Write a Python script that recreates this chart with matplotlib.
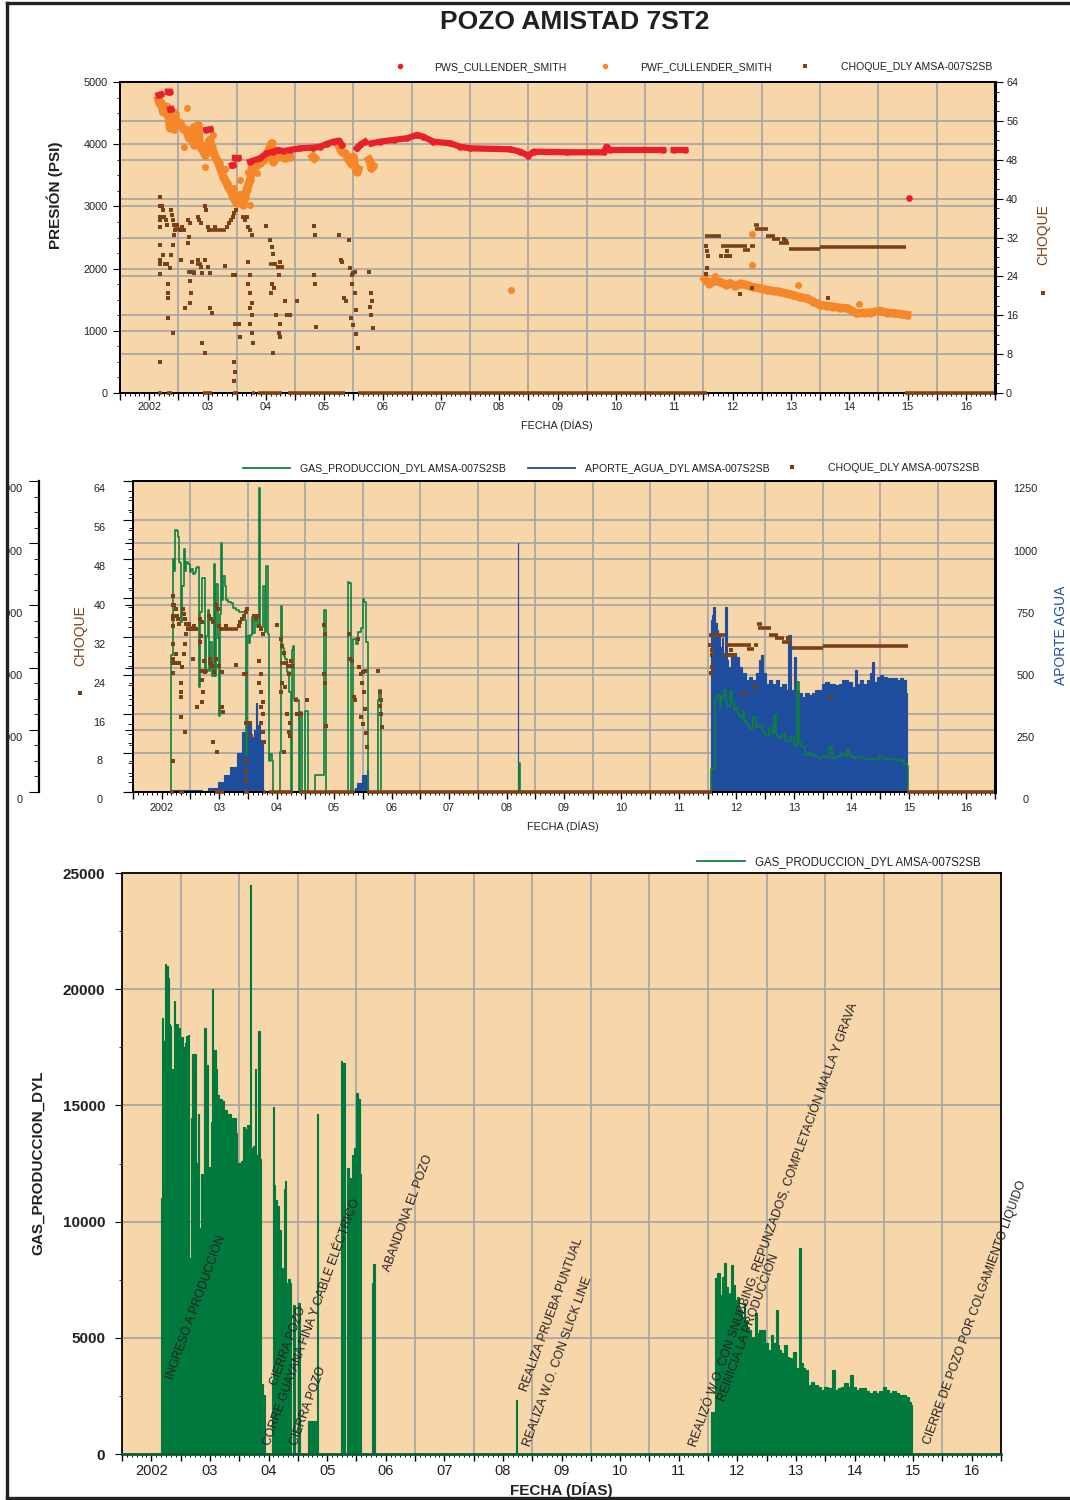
import numpy as np
import matplotlib
matplotlib.use('Agg')
import matplotlib.pyplot as plt
from matplotlib.lines import Line2D
from matplotlib.patches import Rectangle

nan = np.nan

## presion (psi) ##
pws_year = [2002.66, 2002.70, nan, 2002.82, 2002.85, nan, 2002.86, 2002.88, nan, 2003.48, 2003.55, nan,
            2003.92, 2003.94, nan, 2003.97, 2004.03, nan, 2004.23, 2004.40, 2004.51, 2004.63, 2004.71,
            2004.80, 2004.91, 2005.09, 2005.31, 2005.43, 2005.54, 2005.66, 2005.76, 2005.80, nan,
            2006.06, 2006.11, 2006.20, nan, 2006.31, 2006.46, 2006.69, 2006.92, 2007.09, 2007.20,
            2007.37, 2007.66, 2007.83, 2008.00, 2008.69, 2008.86, 2009.00, 2009.09, 2009.66, 2010.29,
            2010.34, 2010.40, 2011.31, nan, 2011.49, 2011.69, nan, 2015.52]
pws_psi = [4790, 4800, nan, 4845, 4845, nan, 4560, 4565, nan, 4230, 4240, nan,
           3660, 3665, nan, 3780, 3780, nan, 3720, 3772, 3853, 3880, 3907,
           3890, 3907, 3934, 3944, 3960, 4003, 4041, 4057, 3987, nan,
           3934, 3987, 4041, nan, 4014, 4041, 4068, 4095, 4148, 4121,
           4041, 4014, 3960, 3934, 3918, 3880, 3815, 3880, 3870, 3870,
           3960, 3907, 3907, nan, 3907, 3907, nan, 3135]

pwf_year = [2002.66, 2002.68, 2002.71, 2002.74, 2002.76, 2002.80, 2002.83, 2002.86, 2002.89, 2002.94,
            2002.97, 2003.03, 2003.08, 2003.14, 2003.18, 2003.23, 2003.27, 2003.31, 2003.34, 2003.37,
            2003.42, 2003.46, 2003.50, 2003.54, 2003.57, 2003.60, 2003.63, 2003.66, 2003.69, 2003.71,
            2003.74, 2003.77, 2003.80, 2003.83, 2003.86, 2003.89, 2003.92, 2003.94, 2003.97, 2004.00,
            2004.03, 2004.06, 2004.09, 2004.11, 2004.14, 2004.17, 2004.20, 2004.23, 2004.26, 2004.30,
            2004.34, 2004.40, 2004.46, 2004.50, 2004.54, 2004.57, 2004.60, 2004.63, 2004.68, 2004.74,
            2004.78, 2004.83, 2004.87, 2004.91, nan, 2005.31, 2005.33, nan, 2005.77, 2005.80, 2005.86,
            2005.90, 2005.94, 2005.97, 2006.00, 2006.03, 2006.06, 2006.08, nan, 2006.27, 2006.29,
            2006.31, 2006.33, nan,
            2012.03, 2012.10, 2012.18, 2012.29, 2012.38, 2012.46, 2012.55, 2012.64, 2012.74, 2012.85,
            2012.97, 2013.09, 2013.20, 2013.31, 2013.42, 2013.54, 2013.65, 2013.77, 2013.88, 2014.00,
            2014.12, 2014.23, 2014.35, 2014.46, 2014.55, 2014.63, 2014.75, 2014.86, 2015.03, 2015.15,
            2015.26, 2015.38, 2015.49]
pwf_psi = [4711, 4650, 4657, 4523, 4560, 4603, 4450, 4256, 4442, 4496,
           4330, 4336, 4250, 4228, 4100, 4175, 3990, 4041, 4309, 3960,
           3900, 3826, 3980, 4068, 3950, 3880, 3800, 3746, 3690, 3638,
           3560, 3478, 3420, 3371, 3300, 3264, 3200, 3156, 3100, 3049,
           3120, 3183, 3050, 3023, 3150, 3264, 3350, 3424, 3612, 3640,
           3666, 3700, 3746, 3800, 3880, 3950, 4014, 3719, 3780, 3826,
           3800, 3773, 3790, 3799, nan, 3799, 3780, nan, 3934, 3880, 3853,
           3780, 3719, 3680, 3799, 3638, 3558, 3600, nan, 3750, 3719,
           3612, 3650, nan,
           1830, 1760, 1800, 1790, 1740, 1763, 1720, 1760, 1736, 1700,
           1683, 1656, 1640, 1629, 1600, 1576, 1540, 1522, 1470, 1415,
           1400, 1388, 1370, 1361, 1320, 1281, 1290, 1291, 1323, 1290,
           1281, 1270, 1254]
pwf_sc_year = [2003.14, 2003.46, 2003.09, 2004.06, 2004.23, 2004.34, 2003.60, 2003.25, 2002.93, 2004.20,
               2003.95, 2003.80, 2008.70, 2012.83, 2012.83, 2013.63, 2014.66, 2012.20]
pwf_sc_psi = [4577, 3638, 3960, 3424, 3023, 3530, 4150, 4290, 4230, 3560,
              3300, 3600, 1656, 2556, 2058, 1736, 1426, 1880]

## choque ##
choque_year = [2002.69, 2002.69, 2002.69, 2002.69, 2002.69, 2002.69, 2002.69, 2002.69, 2002.69, 2002.69,
               2002.72, 2002.74, 2002.76, 2002.78, 2002.80, 2002.74, 2002.77, 2002.80,
               2002.83, 2002.83, 2002.83, 2002.83,
               2002.87, 2002.89, 2002.91, 2002.93, 2002.95, 2002.92, 2002.90, 2002.88, 2002.86, 2002.90,
               2002.98, 2003.02, 2003.06, 2003.10, 2003.05, 2003.11,
               2003.16, 2003.20, 2003.18, 2003.17, 2003.24, 2003.22, 2003.26, 2003.20, 2003.22, 2003.20,
               2003.33, 2003.36, 2003.39, 2003.34, 2003.38, 2003.41, 2003.40,
               2003.45, 2003.48, 2003.50, 2003.53, 2003.45, 2003.50, 2003.55, 2003.55, 2003.57, 2003.46,
               2003.62, 2003.80,
               2003.84, 2003.87, 2003.90, 2003.93, 2003.96, 2003.98, 2003.97, 2003.97, 2003.96, 2003.97,
               2003.96, 2003.94,
               2004.00, 2004.04, 2004.06,
               2004.11, 2004.14, 2004.17, 2004.14, 2004.20, 2004.23, 2004.26, 2004.20, 2004.23, 2004.20,
               2004.23, 2004.26, 2004.23, 2004.26, 2004.23, 2004.26, 2004.28,
               2004.51,
               2004.57, 2004.60, 2004.62, 2004.66, 2004.70, 2004.72, 2004.60, 2004.64, 2004.58, 2004.68,
               2004.74, 2004.72, 2004.74, 2004.62, 2004.75, 2004.77,
               2004.83, 2004.86, 2004.89, 2004.92, 2005.03,
               2005.32, 2005.34, 2005.32, 2005.34, 2005.36,
               2005.75, 2005.78, 2005.81, 2005.84, 2005.87,
               2005.92, 2005.94, 2005.97, 2006.00, 2006.03, 2005.98, 2006.02, 2005.96, 2006.00, 2006.05,
               2006.08, 2006.04,
               2006.27, 2006.30, 2006.32, 2006.29, 2006.31, 2006.33,
               2012.04, 2012.07, 2012.08, 2012.07, 2012.05, 2012.30, 2012.38, 2012.46, 2012.40, 2012.63,
               2012.83, 2014.14, 2013.39, 2013.41]
choque_val = [40.4, 38.4, 36.3, 35.6, 34.2, 30.5, 27.4, 26.5, 24.5, 6.4,
              38.4, 37.7, 36.3, 35.6, 34.6, 28.4, 26.5, 26.5,
              22.4, 20.5, 19.5, 15.5,
              37.7, 36.6, 35.6, 34.6, 33.5, 32.5, 30.5, 28.4, 25.7, 12.3,
              34.6, 33.5, 34.2, 33.5, 27.4, 17.4,
              35.6, 34.9, 32.2, 30.8, 27.0, 25.0, 24.7, 23.1, 20.5, 18.5,
              36.3, 35.6, 34.9, 27.4, 26.0, 24.7, 10.2,
              38.4, 37.7, 34.2, 33.5, 27.4, 26.0, 24.7, 17.4, 16.4, 8.3,
              34.2, 26.2,
              34.2, 35.0, 35.6, 36.3, 37.0, 37.7, 24.3, 14.3, 6.4, 4.4,
              2.4, 24.3,
              14.3, 14.3, 11.6,
              36.3, 36.3, 36.3, 35.6, 34.2, 33.5, 32.5, 27.0, 24.3, 22.4,
              20.5, 18.5, 17.4, 16.0, 14.3, 12.3, 10.2,
              34.4,
              31.5, 30.1, 28.7, 26.5, 26.0, 24.3, 22.4, 21.6, 20.5, 16.0,
              14.3, 12.3, 11.6, 8.3, 27.0, 26.0,
              19.0, 16.0, 16.0, 16.0, 19.0,
              34.4, 32.5, 24.3, 22.4, 13.5,
              32.5, 27.4, 27.0, 19.5, 19.0,
              31.5, 25.7, 24.3, 24.7, 25.0, 22.4, 20.5, 15.5, 13.9, 12.1,
              9.2, 17.1,
              25.0, 20.5, 19.0, 17.7, 16.0, 13.3,
              30.3, 29.2, 28.1, 25.7, 24.5, 28.2, 28.2, 28.2, 29.3, 20.4,
              21.6, 19.5, 31.7, 31.2]
# tramos continuos de choque
choque_run_start = [2002.65, 2002.80, 2003.42, 2003.94, 2004.26, 2004.37, 2004.88, 2006.08, 2015.46,
                    2002.92, 2003.55, 2003.14, 2003.30, 2004.55,
                    2012.02, 2012.30, 2012.68, 2012.80, 2012.86, 2012.88, 2013.07, 2013.18, 2013.30,
                    2013.46, 2014.00]
choque_run_end = [2002.72, 2002.89, 2003.58, 2004.02, 2004.31, 2004.78, 2005.86, 2012.07, 2016.98,
                  2003.05, 2003.82, 2003.30, 2003.40, 2004.68,
                  2012.30, 2012.75, 2012.80, 2012.88, 2012.95, 2013.10, 2013.22, 2013.32, 2013.46,
                  2014.00, 2015.48]
choque_run_val = [0, 0, 0, 0, 0, 0, 0, 0, 0,
                  33.8, 33.5, 24.8, 26.5, 26.5,
                  32.4, 30.3, 29.4, 30.3, 34.6, 33.7, 32.3, 31.6, 30.9,
                  29.6, 30.1]

## gas producido ##
gas_year = [2002.655, 2002.66, 2002.676, 2002.70, 2002.716, 2002.744, 2002.773, 2002.79, 2002.81, 2002.83,
            2002.847, 2002.87, 2002.90, 2002.915, 2002.943, 2002.97, 2003.00, 2003.03, 2003.057, 2003.085,
            2003.114, 2003.13, 2003.153, 2003.19, 2003.21, 2003.244, 2003.267, 2003.29, 2003.31, 2003.335,
            2003.358, 2003.39, 2003.415, 2003.437, 2003.46, 2003.483, 2003.506, 2003.517, 2003.54, 2003.5625,
            2003.585, 2003.608, 2003.642, 2003.68, 2003.72, 2003.767, 2003.824, 2003.88, 2003.926, 2003.96,
            2003.97, 2003.994, 2004.028, 2004.05, 2004.08, 2004.108, 2004.13, 2004.153, 2004.176, 2004.193,
            2004.22, 2004.25, 2004.278, 2004.307, 2004.335, 2004.358, 2004.375, 2004.403, 2004.426, 2004.45,
            2004.555, 2004.5625, 2004.59, 2004.608, 2004.63, 2004.665, 2004.705, 2004.733, 2004.75, 2004.778,
            2004.79, 2004.818, 2004.847, 2004.875, 2004.892, 2004.93, 2004.96, 2005.03, 2005.045,
            2005.30, 2005.34, 2005.36,
            2005.735, 2005.74, 2005.784, 2005.81, 2005.858, 2005.898, 2005.94, 2005.983, 2006.01, 2006.04,
            2006.074, 2006.097, 2006.265, 2006.267, 2006.31, 2006.335,
            2008.72, 2008.725, 2008.74, 2008.745,
            2012.045, 2012.057, 2012.11, 2012.142, 2012.17, 2012.20, 2012.215, 2012.255, 2012.30, 2012.323,
            2012.357, 2012.38, 2012.414, 2012.442, 2012.482, 2012.51, 2012.54, 2012.567, 2012.596, 2012.624,
            2012.652, 2012.68, 2012.71, 2012.766, 2012.822, 2012.85, 2012.88, 2012.936, 2012.993, 2013.05,
            2013.095, 2013.134, 2013.18, 2013.197, 2013.22, 2013.276, 2013.32, 2013.36, 2013.418, 2013.475,
            2013.53, 2013.577, 2013.60, 2013.645, 2013.673, 2013.73, 2013.787, 2013.843, 2013.90, 2013.957,
            2014.014, 2014.07, 2014.155, 2014.184, 2014.24, 2014.297, 2014.354, 2014.41, 2014.44, 2014.496,
            2014.55, 2014.61, 2014.666, 2014.723, 2014.78, 2014.836, 2014.893, 2014.95, 2015.006, 2015.063,
            2015.12, 2015.176, 2015.233, 2015.29, 2015.347, 2015.403, 2015.443, 2015.477, 2015.494]
gas_val = [0, 2935, 11000, 18740, 17775, 21100, 21000, 20500, 18500, 18400,
           13660, 16560, 19500, 17775, 18500, 18340, 17700, 17930, 17530, 17700,
           18000, 18050, 8420, 14470, 17200, 17200, 9790, 12530, 14630, 9710,
           12050, 9300, 18340, 9300, 16730, 12370, 6080, 14300, 20030, 15440,
           17370, 16560, 15440, 15280, 15200, 14790, 14630, 14470, 14470, 13820,
           2935, 12530, 11970, 12600, 14060, 12760, 13980, 14150, 13260, 24470,
           13180, 13260, 16560, 12850, 18180, 12700, 2530, 3020, 2530, 0,
           0, 3180, 14950, 11560, 10920, 10680, 9630, 8020, 0, 11400,
           11740, 7370, 7530, 7370, 0, 6400, 0, 6480, 0,
           1400, 14630, 0,
           0, 16890, 16810, 0, 12290, 11890, 12860, 13180, 15520, 15280,
           12050, 0, 0, 7370, 8180, 0,
           0, 2320, 2320, 0,
           0, 1820, 1820, 7570, 7770, 7800, 6840, 7630, 8200, 7200,
           6900, 6910, 8130, 7270, 6630, 6770, 6260, 6200, 5910, 6480,
           5770, 5480, 5340, 5050, 6050, 5200, 5340, 5340, 4760, 4480,
           5120, 4760, 6200, 4700, 4480, 4340, 4700, 4190, 4120, 4400,
           3690, 8860, 3900, 3690, 3620, 2970, 3110, 2970, 2900, 2760,
           2900, 2830, 3620, 2760, 2830, 2900, 3040, 2900, 3400, 2900,
           2760, 2830, 2830, 2690, 2620, 2690, 2620, 2690, 2900, 2760,
           2620, 2690, 2620, 2550, 2550, 2470, 2250, 2100, 0]

## aporte de agua ##
agua_year = [2002.67, 2002.673, 2003.166, 2003.22, 2003.40, 2003.543, 2003.63, 2003.745, 2003.86, 2003.92,
             2003.978, 2004.006, 2004.093, 2004.12, 2004.15, 2004.18, 2004.24, 2004.268,
             2005.86, 2005.863, 2005.95, 2006.037, 2006.095, 2006.10,
             2008.695, 2008.70, 2008.705,
             2012.055, 2012.058, 2012.087, 2012.115, 2012.144, 2012.173, 2012.20, 2012.23, 2012.26, 2012.29,
             2012.33, 2012.346, 2012.375, 2012.433, 2012.46, 2012.52, 2012.577, 2012.635, 2012.69, 2012.75,
             2012.81, 2012.866, 2012.906, 2012.95, 2012.98, 2013.04, 2013.096, 2013.154, 2013.21, 2013.27,
             2013.327, 2013.385, 2013.414, 2013.47, 2013.53, 2013.558, 2013.616, 2013.673, 2013.73, 2013.79,
             2013.846, 2013.904, 2013.96, 2014.02, 2014.077, 2014.135, 2014.193, 2014.25, 2014.308, 2014.366,
             2014.42, 2014.48, 2014.54, 2014.585, 2014.625, 2014.683, 2014.74, 2014.80, 2014.856, 2014.874,
             2014.914, 2014.97, 2015.03, 2015.087, 2015.145, 2015.20, 2015.26, 2015.318, 2015.376, 2015.433,
             2015.462, 2015.48]
agua_val = [0, 8, 8, 0, 15, 42, 68, 102, 155, 242,
            242, 276, 222, 250, 356, 269, 209, 0,
            0, 15, 35, 68, 88, 0,
            0, 1000, 0,
            0, 690, 711, 745, 678, 651, 637, 584, 620, 557,
            745, 530, 504, 544, 557, 544, 504, 477, 450, 463,
            450, 477, 530, 550, 477, 436, 450, 436, 450, 423,
            436, 410, 632, 410, 544, 410, 396, 383, 396, 390,
            396, 410, 410, 436, 443, 436, 436, 430, 436, 450,
            450, 443, 423, 490, 436, 450, 436, 450, 477, 524,
            443, 463, 470, 463, 457, 457, 457, 450, 457, 450,
            396, 0]

## eventos (anotaciones) ##
event_text = ['INGRESÓ A PRODUCCIÓN', 'CIERRA POZO', 'CORRE GUAYANA FINA Y CABLE ELÉCTRICO', 'CIERRA POZO',
              'ABANDONA EL POZO', 'REALIZA PRUEBA PUNTUAL', 'REALIZA W.O. CON SLICK LINE',
              'REALIZÓ W.O. CON SNUBBING, REPUNZADOS, COMPLETACIÓN MALLA Y GRAVA',
              'REINICIA LA PRODUCCIÓN', 'CIERRE DE POZO POR COLGAMIENTO LÍQUIDO']
event_year = [2002.87, 2004.645, 2004.526, 2004.986, 2006.573, 2008.911, 2008.962, 2011.812, 2012.29, 2015.788]
event_level = [3184, 2926, 344, 344, 7831, 2668, 301, 301, 2238, 387]

year_labels = ['2002'] + ['%02d' % (y % 100) for y in range(2003, 2017)]


## estilo ##
W, H = 1070, 1500
FAM = ['Liberation Sans', 'DejaVu Sans']
plt.rcParams['font.family'] = FAM
plt.rcParams['axes.linewidth'] = 1.3

BG = '#F7D6A9'
GRID = '#A3A3A3'
RED = '#E8202A'
ORANGE = '#F5862A'
BROWN = '#7A4117'
GREEN = '#007A3C'
GREEN_L = '#0E8040'
BLUE = '#1F4E9F'
INK = '#231F20'


def fx(x):
    return x / W


def fy(y):
    return 1 - y / H


def time_axis(ax, fs, pad):
    ax.set_xlim(2002, 2017)
    mids = np.arange(2002.5, 2017, 1.0)
    starts = np.arange(2002, 2018, 1.0)
    ticks = np.sort(np.concatenate([starts, mids]))
    ax.set_xticks(ticks)
    labs = [year_labels[int(t - 2002)] if t % 1 else '' for t in ticks]
    ax.set_xticklabels(labs, fontsize=fs, color=INK)
    ax.set_xticks(np.arange(2002, 2017.001, 1 / 12.), minor=True)
    ax.tick_params(axis='x', which='major', length=5, width=1, pad=pad)
    ax.tick_params(axis='x', which='minor', length=2.2, width=0.7)
    for yr in range(2003, 2017):
        ax.axvline(yr, color=GRID, lw=1.2, zorder=0.3)


def choque_plot(ax):
    ax.hlines(choque_run_val, choque_run_start, choque_run_end, color=BROWN, lw=2.6, zorder=3, clip_on=False)
    ax.plot(choque_year, choque_val, 's', ms=2.6, mew=0, color=BROWN, zorder=3)


fig = plt.figure(figsize=(W / 100, H / 100), dpi=100)

# ---------------- panel 1: presiones ----------------
ax1 = fig.add_axes([fx(120), fy(393), (995 - 120) / W, (393 - 82) / H])
ax1.set_facecolor(BG)
time_axis(ax1, 7.8, 1.5)
ax1.set_ylim(0, 5000)
ax1.set_yticks(np.arange(0, 5001, 1000))
ax1.set_yticks(np.arange(0, 5001, 250), minor=True)
ax1.set_yticklabels([str(v) for v in range(0, 5001, 1000)], fontsize=7.8, color=INK)
ax1.tick_params(axis='y', which='major', length=5, pad=4)
ax1.tick_params(axis='y', which='minor', length=2.5)
for v in range(1000, 5000, 1000):
    ax1.axhline(v, color=GRID, lw=1.2, zorder=0.3)
for v in range(8, 64, 8):
    ax1.axhline(v * 5000 / 64, color=GRID, lw=1.2, zorder=0.3)

ax1.plot(pwf_year, pwf_psi, '-o', color=ORANGE, lw=6, ms=6, mew=0, zorder=2)
ax1.plot(pwf_sc_year, pwf_sc_psi, 'o', color=ORANGE, ms=5, mew=0, zorder=2)
ax1.plot(pws_year, pws_psi, '-o', color=RED, lw=4.5, ms=4.8, mew=0, zorder=2.5)

ax1r = ax1.twinx()
ax1r.set_ylim(0, 64)
ax1r.set_yticks(np.arange(0, 65, 8))
ax1r.set_yticks(np.arange(0, 65, 2), minor=True)
ax1r.set_yticklabels([str(v) for v in range(0, 65, 8)], fontsize=7.8, color=INK)
ax1r.tick_params(axis='y', which='major', length=6, pad=2)
ax1r.tick_params(axis='y', which='minor', length=3)
ax1r.spines['right'].set_linewidth(2.2)
choque_plot(ax1r)

fig.text(fx(557), fy(425), 'FECHA (DÍAS)', ha='center', va='center', fontsize=7.8, color=INK)
fig.text(fx(55), fy(195), 'PRESIÓN (PSI)', ha='center', va='center', rotation=90,
         fontsize=11, fontweight='bold', color=INK)
fig.text(fx(1043), fy(235), 'CHOQUE', ha='center', va='center', rotation=90, fontsize=10, color=BROWN)
fig.add_artist(Line2D([fx(1043)], [fy(293)], marker='s', ms=2.5, mew=0, color=BROWN, transform=fig.transFigure))

# leyenda superior
for mx, tx, lab, col, mk, ms in [(400, 434, 'PWS_CULLENDER_SMITH', RED, 'o', 4),
                                 (605, 640, 'PWF_CULLENDER_SMITH', ORANGE, 'o', 4),
                                 (805, 841, 'CHOQUE_DLY AMSA-007S2SB', BROWN, 's', 2.3)]:
    fig.add_artist(Line2D([fx(mx)], [fy(66)], marker=mk, ms=ms, mew=0, color=col, transform=fig.transFigure))
    fig.text(fx(tx), fy(67), lab, ha='left', va='center', fontsize=7.6, color=INK)

# ---------------- panel 2: gas / agua / choque ----------------
ax2 = fig.add_axes([fx(133), fy(792), (995 - 133) / W, (792 - 481) / H])
ax2.set_facecolor(BG)
ax2.set_zorder(1)
time_axis(ax2, 7.8, 3)
ax2.set_ylim(0, 1250)
ax2.yaxis.set_ticks_position('right')
ax2.set_yticks(np.arange(0, 1251, 250))
ax2.set_yticks(np.arange(0, 1251, 62.5), minor=True)
ax2.set_yticklabels([])
ax2.tick_params(axis='y', which='major', length=6)
ax2.tick_params(axis='y', which='minor', length=3)
ax2.spines['right'].set_linewidth(2.2)
for v in range(250, 1250, 250):
    ax2.axhline(v, color=GRID, lw=1.2, zorder=0.3)
for v in range(8, 64, 8):
    ax2.axhline(v * 1250 / 64, color=GRID, lw=1.2, zorder=0.3)
ax2.fill_between(agua_year, agua_val, step='mid', color=BLUE, lw=0.8, zorder=1)
for v in range(0, 1251, 250):
    ax2.annotate(str(v), xy=(1, v), xycoords=ax2.get_yaxis_transform(), xytext=(22, -6),
                 textcoords='offset points', ha='center', va='center', fontsize=7.8, color=INK)

ax2g = ax2.twinx()
ax2g.set_zorder(2)
ax2g.set_ylim(0, 25000)
ax2g.yaxis.set_ticks_position('left')
ax2g.spines['left'].set_position(('axes', -94 / 862))
ax2g.spines['left'].set_linewidth(1.6)
for s in ['right', 'top', 'bottom']:
    ax2g.spines[s].set_visible(False)
ax2g.set_yticks(np.arange(0, 25001, 5000))
ax2g.set_yticks(np.arange(0, 25001, 1250), minor=True)
ax2g.set_yticklabels([])
ax2g.tick_params(axis='y', which='major', length=7)
ax2g.tick_params(axis='y', which='minor', length=3.5)
ax2g.plot(gas_year, gas_val, drawstyle='steps-mid', color=GREEN_L, lw=1.2)
for v in range(0, 25001, 5000):
    ax2g.annotate(str(v), xy=(-94 / 862, v), xycoords=ax2g.get_yaxis_transform(), xytext=(-12, -6),
                  textcoords='offset points', ha='right', va='center', fontsize=7.8,
                  color=INK, annotation_clip=False)

ax2c = ax2.twinx()
ax2c.set_zorder(3)
ax2c.set_ylim(0, 64)
ax2c.yaxis.set_ticks_position('left')
ax2c.set_yticks(np.arange(0, 65, 8))
ax2c.set_yticks(np.arange(0, 65, 2), minor=True)
ax2c.set_yticklabels([])
ax2c.tick_params(axis='y', which='major', length=7)
ax2c.tick_params(axis='y', which='minor', length=3.5)
choque_plot(ax2c)
for v in range(0, 65, 8):
    ax2c.annotate(str(v), xy=(0, v), xycoords=ax2c.get_yaxis_transform(), xytext=(-24, -6),
                  textcoords='offset points', ha='center', va='center', fontsize=7.8, color=INK)

fig.text(fx(563), fy(826), 'FECHA (DÍAS)', ha='center', va='center', fontsize=7.8, color=INK)
fig.text(fx(80), fy(636), 'CHOQUE', ha='center', va='center', rotation=90, fontsize=10, color=BROWN)
fig.add_artist(Line2D([fx(80)], [fy(693)], marker='s', ms=2.5, mew=0, color=BROWN, transform=fig.transFigure))
fig.text(fx(1061), fy(635), 'APORTE AGUA', ha='center', va='center', rotation=90, fontsize=10, color=BLUE)

for x0, x1, tx, lab, col in [(243, 290, 300, 'GAS_PRODUCCION_DYL AMSA-007S2SB', GREEN_L),
                             (528, 575, 585, 'APORTE_AGUA_DYL AMSA-007S2SB', BLUE)]:
    fig.add_artist(Line2D([fx(x0), fx(x1)], [fy(468), fy(468)], lw=1.3, color=col, transform=fig.transFigure))
    fig.text(fx(tx), fy(468), lab, ha='left', va='center', fontsize=7.6, color=INK)
fig.add_artist(Line2D([fx(792)], [fy(467)], marker='s', ms=2.3, mew=0, color=BROWN, transform=fig.transFigure))
fig.text(fx(828), fy(468), 'CHOQUE_DLY AMSA-007S2SB', ha='left', va='center', fontsize=7.6, color=INK)

# ---------------- panel 3: produccion de gas ----------------
ax3 = fig.add_axes([fx(122), fy(1454), (1001 - 122) / W, (1454 - 873) / H])
ax3.set_facecolor(BG)
time_axis(ax3, 10.5, 2)
ax3.set_ylim(0, 25000)
ax3.set_yticks(np.arange(0, 25001, 5000))
ax3.set_yticks(np.arange(0, 25001, 2500), minor=True)
ax3.set_yticklabels([str(v) for v in range(0, 25001, 5000)], fontsize=11, fontweight='bold', color=INK)
ax3.tick_params(axis='y', which='major', length=5, pad=7)
ax3.tick_params(axis='y', which='minor', length=2.5)
for v in range(5000, 25000, 5000):
    ax3.axhline(v, color=GRID, lw=1.2, zorder=0.3)
ax3.fill_between(gas_year, gas_val, step='mid', color=GREEN, lw=0.8, zorder=1)
ax3.spines['bottom'].set_color('#0B5A31')
ax3.spines['bottom'].set_linewidth(2)

for txt, yr, lv in zip(event_text, event_year, event_level):
    ax3.text(yr, lv, txt, rotation=70, rotation_mode='anchor', ha='left', va='baseline',
             fontsize=8.7, color=INK, clip_on=False, zorder=4)

fig.text(fx(561), fy(1490), 'FECHA (DÍAS)', ha='center', va='center', fontsize=11, fontweight='bold', color=INK)
fig.text(fx(38), fy(1163), 'GAS_PRODUCCION_DYL', ha='center', va='center', rotation=90,
         fontsize=11, fontweight='bold', color=INK)
fig.add_artist(Line2D([fx(697), fx(745)], [fy(861), fy(861)], lw=1.3, color=GREEN_L, transform=fig.transFigure))
fig.text(fx(755), fy(862), 'GAS_PRODUCCION_DYL AMSA-007S2SB', ha='left', va='center', fontsize=8.3, color=INK)

# titulo y marco
fig.text(fx(575), fy(22), 'POZO AMISTAD 7ST2', ha='center', va='center', fontsize=19,
         fontweight='bold', color=INK)
fig.add_artist(Rectangle((0, 0), fx(6), 1, color='white', transform=fig.transFigure, zorder=10))
fig.add_artist(Line2D([fx(7), fx(7)], [fy(3), fy(1498)], lw=2.4, color='#222222',
                      transform=fig.transFigure, zorder=11))
fig.add_artist(Line2D([fx(7), 1], [fy(3), fy(3)], lw=2.4, color='#222222',
                      transform=fig.transFigure, zorder=11))
fig.add_artist(Line2D([fx(7), 1], [fy(1498), fy(1498)], lw=2.4, color='#222222',
                      transform=fig.transFigure, zorder=11))

fig.savefig('out.png', dpi=100)
